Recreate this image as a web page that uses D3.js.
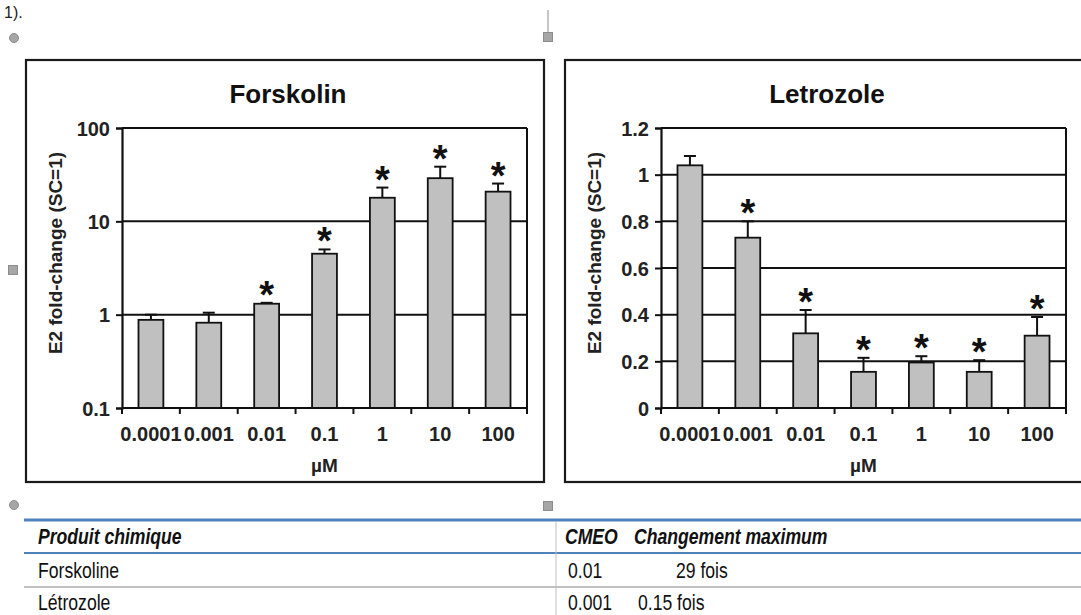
<!DOCTYPE html>
<html><head><meta charset="utf-8">
<script src="https://cdn.jsdelivr.net/npm/d3@7"></script>
<style>
html,body{margin:0;padding:0;background:#fff;overflow:hidden}
svg{display:block}
text{font-family:"Liberation Sans",Arial,sans-serif}
</style></head><body>
<svg id="c" width="1081" height="615"></svg>
<script>
// ---- data ----
const categories = ["0.0001","0.001","0.01","0.1","1","10","100"];
const forskolinMean = [0.88, 0.82, 1.31, 4.5, 17.9, 29, 20.8];
const forskolinUpper = [1.0, 1.05, 1.34, 5.0, 23, 38.5, 25.4];
const forskolinSig = [0,0,1,1,1,1,1];
const forskolinTicks = [0.1, 1, 10, 100];
const letrozoleMean = [1.04, 0.73, 0.32, 0.155, 0.195, 0.155, 0.31];
const letrozoleUpper = [1.08, 0.80, 0.42, 0.215, 0.222, 0.205, 0.39];
const letrozoleSig = [0,1,1,1,1,1,1];
const letrozoleTicks = [0, 0.2, 0.4, 0.6, 0.8, 1, 1.2];
const titles = ["Forskolin", "Letrozole"];
const yLabel = "E2 fold-change (SC=1)";
const xLabel = "µM";
const tableHeader = ["Produit chimique", "CMEO", "Changement maximum"];
const tableRows = [["Forskoline", "0.01", "29 fois"], ["Létrozole", "0.001", "0.15 fois"]];

const svg = d3.select("#c");

// page decorations (document frame handles)
svg.append("text").attr("x",4).attr("y",18).attr("font-family","Liberation Serif,serif").attr("font-size",16).attr("fill","#222").text("1).");
const hc = "#a6a6a6", hs = "#8c8c8c";
svg.append("line").attr("x1",548).attr("x2",548).attr("y1",10).attr("y2",33).attr("stroke",hs).attr("stroke-width",1);
[[14,38],[14,505]].forEach(p=>svg.append("circle").attr("cx",p[0]).attr("cy",p[1]).attr("r",4.5).attr("fill",hc).attr("stroke",hs));
[[548,37],[13,270],[548,506]].forEach(p=>svg.append("rect").attr("x",p[0]-4.5).attr("y",p[1]-4.5).attr("width",9).attr("height",9).attr("fill",hc).attr("stroke",hs));

function panel(offsetX, title, mean, upper, sig, ticks, isLog, fmt){
  const g = svg.append("g").attr("transform",`translate(${offsetX},0)`);
  g.append("rect").attr("x",26).attr("y",60).attr("width",518).attr("height",422)
    .attr("fill","#fff").attr("stroke","#1a1a1a").attr("stroke-width",2.2);
  const L=122, R=527, T=128, B=408;
  const x = d3.scaleBand().domain(categories).range([L,R]).paddingInner(0.57).paddingOuter(0.285);
  const y = isLog ? d3.scaleLog().domain([0.1,100]).range([B,T])
                  : d3.scaleLinear().domain([0,1.2]).range([B,T]);
  // title
  g.append("text").attr("x",288).attr("y",103).attr("text-anchor","middle")
    .attr("font-size",26).attr("font-weight","bold").attr("fill","#111").text(title);
  // gridlines
  g.append("g").selectAll("line").data(ticks.slice(1)).join("line")
    .attr("x1",L).attr("x2",R).attr("y1",d=>y(d)).attr("y2",d=>y(d))
    .attr("stroke","#111").attr("stroke-width",2);
  // right border
  g.append("line").attr("x1",R).attr("x2",R).attr("y1",T).attr("y2",B).attr("stroke","#111").attr("stroke-width",2);
  // bars
  g.append("g").selectAll("rect").data(mean).join("rect")
    .attr("x",(d,i)=>x(categories[i])).attr("width",x.bandwidth())
    .attr("y",d=>y(d)).attr("height",d=>B-y(d))
    .attr("fill","#c0c0c0").attr("stroke","#111").attr("stroke-width",1.8);
  // error bars
  const eb = g.append("g").attr("stroke","#111").attr("stroke-width",2);
  mean.forEach((m,i)=>{
    const cx = x(categories[i]) + x.bandwidth()/2;
    eb.append("line").attr("x1",cx).attr("x2",cx).attr("y1",y(m)).attr("y2",y(upper[i]));
    eb.append("line").attr("x1",cx-6).attr("x2",cx+6).attr("y1",y(upper[i])).attr("y2",y(upper[i]));
  });
  // significance stars
  const stars = g.append("g");
  upper.forEach((u,i)=>{
    if(!sig[i]) return;
    stars.append("text").attr("x",x(categories[i]) + x.bandwidth()/2).attr("y",y(u)+5)
      .attr("text-anchor","middle").attr("font-size",38).attr("font-weight","bold").attr("fill","#111")
      .text("*");
  });
  // y axis
  const ya = g.append("g").attr("transform",`translate(${L},0)`)
    .call(d3.axisLeft(y).tickValues(ticks).tickFormat(fmt).tickSize(6).tickPadding(6));
  ya.select(".domain").attr("stroke","#111").attr("stroke-width",2.2);
  ya.selectAll(".tick line").attr("stroke","#111").attr("stroke-width",2);
  ya.selectAll("text").attr("font-size",20).attr("font-weight","bold").attr("fill","#222")
    .attr("font-family","Liberation Sans,Arial,sans-serif").attr("dy","0.36em");
  // x axis
  const xa = g.append("g").attr("transform",`translate(0,${B})`)
    .call(d3.axisBottom(x).tickSize(0).tickPadding(19));
  xa.select(".domain").attr("stroke","#111").attr("stroke-width",2.2).attr("d",`M${L},0H${R}`);
  xa.selectAll("text").attr("font-size",20).attr("font-weight","bold").attr("fill","#222")
    .attr("font-family","Liberation Sans,Arial,sans-serif");
  xa.selectAll(".bnd").data(d3.range(categories.length+1)).join("line")
    .attr("x1",i=>L+i*x.step()).attr("x2",i=>L+i*x.step()).attr("y1",0).attr("y2",6)
    .attr("stroke","#111").attr("stroke-width",2);
  // axis labels
  g.append("text").attr("x",(L+R)/2).attr("y",472).attr("text-anchor","middle")
    .attr("font-size",19).attr("font-weight","bold").attr("fill","#222").text(xLabel);
  g.append("text").attr("transform",`translate(62,253) rotate(-90)`).attr("text-anchor","middle")
    .attr("font-size",19).attr("font-weight","bold").attr("fill","#222").text(yLabel);
}

const logFmt = d => String(d);
const linFmt = d => String(+d.toFixed(1));
panel(0, titles[0], forskolinMean, forskolinUpper, forskolinSig, forskolinTicks, true, logFmt);
panel(539, titles[1], letrozoleMean, letrozoleUpper, letrozoleSig, letrozoleTicks, false, linFmt);

// ---- table ----
const tb = svg.append("g").attr("fill","#111");
tb.append("line").attr("x1",24).attr("x2",1081).attr("y1",520).attr("y2",520).attr("stroke","#4f81bd").attr("stroke-width",3);
tb.append("line").attr("x1",24).attr("x2",1081).attr("y1",553).attr("y2",553).attr("stroke","#4f81bd").attr("stroke-width",2);
tb.append("line").attr("x1",24).attr("x2",1081).attr("y1",587).attr("y2",587).attr("stroke","#c0c0c0").attr("stroke-width",2);
tb.append("line").attr("x1",556).attr("x2",556).attr("y1",522).attr("y2",615).attr("stroke","#c0c0c0").attr("stroke-width",1);
const colX = [38, 565, 634];
const rowColX = [[38, 568, 676],[38, 568, 638]];
function narrow(xp, yp, txt, bold){
  const t = tb.append("text").attr("transform",`translate(${xp},${yp}) scale(0.8,1)`)
    .attr("font-size",22).text(txt);
  if(bold) t.attr("font-weight","bold").attr("font-style","italic");
}
tableHeader.forEach((h,i)=>narrow(colX[i], 544, h, true));
tableRows.forEach((r,j)=>r.forEach((c,i)=>narrow(rowColX[j][i], 578+j*32, c, false)));
</script>
</body></html>
